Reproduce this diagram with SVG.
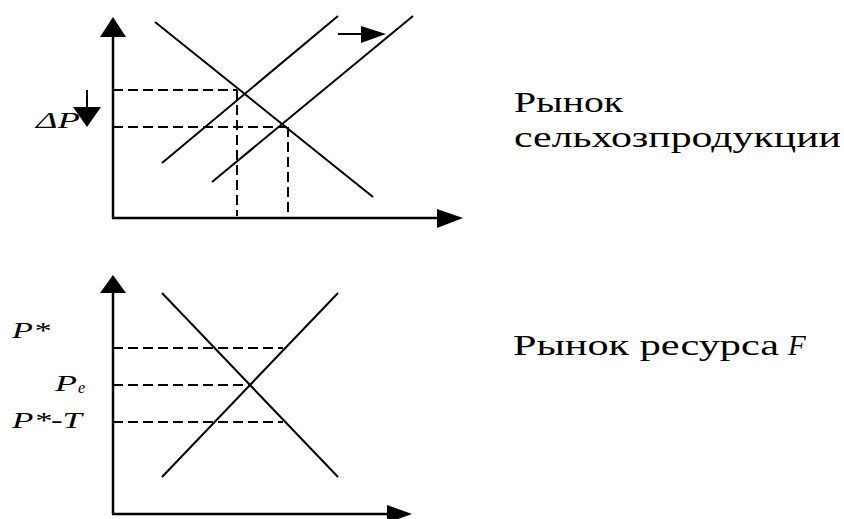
<svg xmlns="http://www.w3.org/2000/svg" width="844" height="519" viewBox="0 0 844 519">
<style>
.axis{stroke:#000;stroke-width:2.5;fill:none}
.curve{stroke:#000;stroke-width:2;fill:none}
.dash{stroke:#000;stroke-width:2;fill:none;stroke-dasharray:10 5}
.head{fill:#000;stroke:none}
text{fill:#000}
</style>
<rect width="844" height="519" fill="#fff"/>
<g id="connectors">
<g id="top-axes">
<line class="axis" x1="113" y1="218" x2="113" y2="34"/>
<polygon class="head" points="100,37 126,37 113,17"/>
<line class="axis" x1="112" y1="218" x2="440" y2="218"/>
<polygon class="head" points="437,209 437,228 463,218"/>
</g>
<line class="curve" x1="155" y1="22" x2="373" y2="197"/>
<line class="curve" x1="162" y1="163" x2="338" y2="16"/>
<line class="curve" x1="212" y1="182" x2="413" y2="16"/>
<line class="dash" x1="113" y1="90" x2="237" y2="90"/>
<line class="dash" x1="113" y1="127" x2="287" y2="127"/>
<line class="dash" x1="237" y1="90" x2="237" y2="216"/>
<line class="dash" x1="288" y1="127" x2="288" y2="216"/>
<line class="curve" x1="338" y1="34" x2="363" y2="34"/>
<polygon class="head" points="361,26 361,43 386,34"/>
<line class="curve" x1="87" y1="90" x2="87" y2="109"/>
<polygon class="head" points="73,107 101,107 87,127"/>
<g id="bottom-axes">
<line class="axis" x1="113" y1="514" x2="113" y2="291"/>
<polygon class="head" points="100,293 126,293 113,275"/>
<line class="axis" x1="112" y1="514" x2="390" y2="514"/>
<polygon class="head" points="387,505 387,523 412,514"/>
</g>
<line class="curve" x1="162" y1="293" x2="338" y2="477"/>
<line class="curve" x1="162" y1="477" x2="338" y2="293"/>
<line class="dash" x1="113" y1="348" x2="283" y2="348"/>
<line class="dash" x1="113" y1="385" x2="250" y2="385"/>
<line class="dash" x1="113" y1="422" x2="283" y2="422"/>
</g>
<g id="label-dP"><text font-family="Liberation Serif, serif" font-style="italic" x="36" y="128" font-size="24" textLength="44" lengthAdjust="spacingAndGlyphs">ΔP</text></g>
<g id="label-Pstar"><text font-family="Liberation Serif, serif" font-style="italic" x="12" y="338" font-size="23" textLength="38" lengthAdjust="spacingAndGlyphs">P*</text></g>
<g id="label-Pe"><text font-family="Liberation Serif, serif" font-style="italic" x="55" y="391" font-size="23" textLength="22" lengthAdjust="spacingAndGlyphs">P</text><text font-family="Liberation Serif, serif" font-style="italic" x="78" y="393" font-size="16">e</text></g>
<g id="label-PstarT"><text font-family="Liberation Serif, serif" font-style="italic" x="12" y="428" font-size="23" textLength="70" lengthAdjust="spacingAndGlyphs">P*-T</text></g>
<g id="title-top"><text font-family="Liberation Serif, serif" x="514" y="112" font-size="30" textLength="109" lengthAdjust="spacingAndGlyphs">Рынок</text><text font-family="Liberation Serif, serif" x="514" y="147" font-size="30" textLength="327" lengthAdjust="spacingAndGlyphs">сельхозпродукции</text></g>
<g id="title-bottom"><text font-family="Liberation Serif, serif" x="513" y="355" font-size="30" textLength="266" lengthAdjust="spacingAndGlyphs">Рынок ресурса</text><text font-family="Liberation Serif, serif" font-style="italic" x="788" y="355" font-size="29">F</text></g>
</svg>
